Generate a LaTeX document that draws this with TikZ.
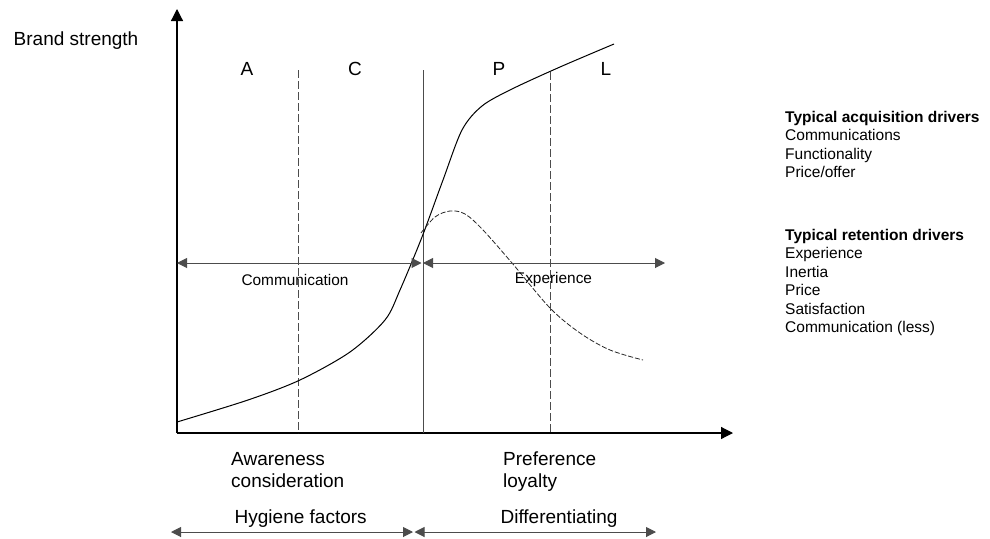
\documentclass[tikz,border=0pt]{standalone}
\usepackage{fontspec}
\setmainfont{Liberation Sans}
\usetikzlibrary{arrows.meta}
\begin{document}
\begin{tikzpicture}[x=1pt,y=-1pt,
  tip/.style={-{Triangle[length=12pt,width=12pt]}},
  dtip/.style={{Triangle[length=10pt,width=10pt]}-{Triangle[length=10pt,width=10pt]}},
  axisline/.style={line width=1.2pt, black},
  divider/.style={line width=0.9pt, black!70},
  dashdiv/.style={line width=0.9pt, black!70, dash pattern=on 8pt off 3pt},
  curve/.style={line width=1pt, black},
  dcurve/.style={line width=0.8pt, black!85, dash pattern=on 5pt off 2pt},
  hline/.style={line width=1pt, black!70, dtip},
  biglbl/.style={font=\fontsize{19}{22}\selectfont, inner sep=0pt},
  midlbl/.style={font=\fontsize{15.4}{18}\selectfont, inner sep=0pt},
  sidelbl/.style={font=\fontsize{15.5}{18.5}\selectfont, inner sep=0pt, anchor=base west}
]
\useasboundingbox (0,0) rectangle (990,538);
% axes
\coordinate (O) at (177,433);
\coordinate (Ytop) at (177,9);
\coordinate (Xend) at (733,433);
\draw[axisline,tip] (O) -- (Ytop);
\draw[axisline,tip] (O) -- (Xend);
\node[biglbl, anchor=base west] (ylab) at (13.5,45) {Brand strength};
% dividers
\coordinate (d1t) at (298,70); \coordinate (d1b) at (298,433);
\coordinate (d2t) at (423,70); \coordinate (d2b) at (423,433);
\coordinate (d3t) at (550,72); \coordinate (d3b) at (550,433);
\draw[dashdiv] (d1t) -- (d1b);
\draw[divider] (d2t) -- (d2b);
\draw[dashdiv] (d3t) -- (d3b);
% stage labels
\node[biglbl] (A) at (247,69) {A};
\node[biglbl] (C) at (355,69) {C};
\node[biglbl] (P) at (499,69) {P};
\node[biglbl] (L) at (606,69) {L};
% curves
\draw[curve] plot[smooth, tension=0.5] coordinates {(177,422) (248,400) (300,380) (350,352) (385,320) (400,290) (422,237) (443,180) (462,130) (482,106) (512,89) (560,67) (614,44)};
\draw[dcurve] plot[smooth, tension=0.55] coordinates {(421,233) (435,217) (450,211) (465,214) (483,230) (512,263) (550,308) (580,333) (610,350) (643,360)};
% middle arrows
\coordinate (m1) at (177,263); \coordinate (m2) at (421.5,263);
\coordinate (m3) at (423,263); \coordinate (m4) at (665,263);
\draw[hline] (m1) -- (m2);
\draw[hline] (m3) -- (m4);
\node[midlbl] (comm) at (295,280) {Communication};
\node[midlbl] (exp) at (553.5,280) {Experience};
% bottom labels
\node[biglbl, anchor=base west] (aw1) at (231,465) {Awareness};
\node[biglbl, anchor=base west] (aw2) at (231,487) {consideration};
\node[biglbl, anchor=base west] (pr1) at (503,465) {Preference};
\node[biglbl, anchor=base west] (pr2) at (503,487) {loyalty};
\node[biglbl, anchor=base] (hyg) at (300.7,523) {Hygiene factors};
\node[biglbl, anchor=base] (dif) at (559,523) {Differentiating};
\coordinate (b1) at (171,532); \coordinate (b2) at (413,532);
\coordinate (b3) at (414.5,532); \coordinate (b4) at (656,532);
\draw[hline] (b1) -- (b2);
\draw[hline] (b3) -- (b4);
% side text
\node[sidelbl] (acq0) at (785,122) {\textbf{Typical acquisition drivers}};
\node[sidelbl] (acq1) at (785,140.5) {Communications};
\node[sidelbl] (acq2) at (785,159) {Functionality};
\node[sidelbl] (acq3) at (785,177.5) {Price/offer};
\node[sidelbl] (ret0) at (785,240) {\textbf{Typical retention drivers}};
\node[sidelbl] (ret1) at (785,258.5) {Experience};
\node[sidelbl] (ret2) at (785,277) {Inertia};
\node[sidelbl] (ret3) at (785,295.5) {Price};
\node[sidelbl] (ret4) at (785,314) {Satisfaction};
\node[sidelbl] (ret5) at (785,332.5) {Communication (less)};
\end{tikzpicture}
\end{document}
